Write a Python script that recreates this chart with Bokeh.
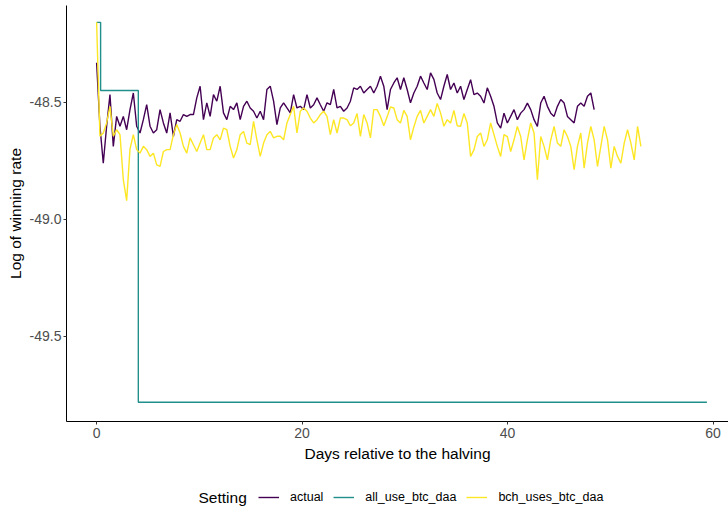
from bokeh.plotting import figure
from bokeh.layouts import column
from bokeh.models import Range1d, FixedTicker, PrintfTickFormatter, Legend, LegendItem, Label
from bokeh.embed import file_html
from bokeh.resources import INLINE
import numpy as np

step_days = 0.325

actual = [
    -48.331, -48.602, -48.760, -48.602, -48.467, -48.688, -48.560, -48.602, -48.560, -48.617,
    -48.531, -48.460, -48.602, -48.631, -48.574, -48.510, -48.602, -48.631, -48.617, -48.531,
    -48.588, -48.631, -48.545, -48.645, -48.574, -48.581, -48.552, -48.560, -48.552, -48.552,
    -48.481, -48.431, -48.574, -48.502, -48.560, -48.467, -48.495, -48.431, -48.545, -48.574,
    -48.517, -48.531, -48.502, -48.574, -48.517, -48.495, -48.524, -48.538, -48.567, -48.538,
    -48.574, -48.445, -48.431, -48.495, -48.595, -48.524, -48.502, -48.524, -48.545, -48.467,
    -48.524, -48.517, -48.531, -48.467, -48.524, -48.510, -48.481, -48.510, -48.538, -48.502,
    -48.510, -48.445, -48.524, -48.517, -48.538, -48.524, -48.495, -48.438, -48.445, -48.431,
    -48.460, -48.445, -48.431, -48.460, -48.431, -48.388, -48.431, -48.531, -48.445, -48.417,
    -48.395, -48.445, -48.395, -48.445, -48.502, -48.460, -48.431, -48.388, -48.417, -48.445,
    -48.374, -48.402, -48.460, -48.488, -48.431, -48.381, -48.445, -48.417, -48.460, -48.431,
    -48.488, -48.445,
    -48.403, -48.467, -48.460, -48.474, -48.503, -48.438, -48.474, -48.517,
    -48.588, -48.610, -48.546, -48.588, -48.560, -48.531, -48.574, -48.546, -48.531, -48.503,
    -48.531, -48.574, -48.603, -48.503, -48.474, -48.517, -48.546, -48.560, -48.517, -48.488,
    -48.503, -48.560, -48.574, -48.588, -48.517, -48.503, -48.517, -48.474, -48.460, -48.531,
]

bch_uses_btc_daa = [
    -48.158, -48.645, -48.631, -48.588, -48.517, -48.645, -48.617, -48.638, -48.830, -48.920,
    -48.700, -48.638, -48.702, -48.717, -48.688, -48.702, -48.731, -48.717, -48.767, -48.774,
    -48.710, -48.702, -48.702, -48.638, -48.595, -48.631, -48.688, -48.717, -48.652, -48.681,
    -48.710, -48.674, -48.638, -48.702, -48.702, -48.652, -48.638, -48.660, -48.610, -48.617,
    -48.688, -48.738, -48.702, -48.638, -48.624, -48.674, -48.681, -48.581, -48.660, -48.731,
    -48.674, -48.638, -48.624, -48.652, -48.645, -48.645, -48.660, -48.588, -48.552, -48.517,
    -48.631, -48.538, -48.524, -48.538, -48.567, -48.588, -48.574, -48.552, -48.538, -48.560,
    -48.638, -48.574, -48.631, -48.567, -48.567, -48.574, -48.600, -48.588, -48.548, -48.645,
    -48.552, -48.588, -48.652, -48.531, -48.531, -48.560, -48.600, -48.562, -48.520, -48.524,
    -48.574, -48.588, -48.534, -48.560, -48.660, -48.605, -48.560, -48.534, -48.588, -48.560,
    -48.531, -48.560, -48.505, -48.545, -48.602, -48.574, -48.588, -48.534, -48.600, -48.602,
    -48.548, -48.588,
    -48.731, -48.703, -48.646, -48.631, -48.688, -48.660, -48.588, -48.638,
    -48.688, -48.731, -48.638, -48.646, -48.710, -48.660, -48.603, -48.646, -48.746, -48.660,
    -48.588, -48.631, -48.831, -48.646, -48.688, -48.746, -48.660, -48.603, -48.674, -48.688,
    -48.617, -48.646, -48.688, -48.788, -48.688, -48.631, -48.781, -48.674, -48.603, -48.660,
    -48.774, -48.688, -48.603, -48.660, -48.781, -48.688, -48.731, -48.760, -48.674, -48.617,
    -48.674, -48.746, -48.603, -48.688,
]

all_use_days = [0.0, 0.39, 4.06, 59.4]
all_use_btc_daa = [-48.158, -48.449, -49.782, -49.782]

x_ticks = [0, 20, 40, 60]
y_ticks = [-49.5, -49.0, -48.5]
series_names = ["actual", "all_use_btc_daa", "bch_uses_btc_daa"]
legend_title = "Setting"
colors = ["#440154", "#21908C", "#FDE725"]

actual_days = np.arange(len(actual)) * step_days
bch_days = np.arange(len(bch_uses_btc_daa)) * step_days

FONT = "Liberation Sans"
LW = 1.4

p = figure(width=728, height=470, output_backend="svg", toolbar_location=None,
           x_range=Range1d(-2.93, 61.5), y_range=Range1d(-49.864, -48.086),
           min_border_left=66, min_border_right=0, min_border_top=5, min_border_bottom=49)
p.xgrid.visible = False
p.ygrid.visible = False
p.outline_line_color = None
p.background_fill_color = "white"
p.border_fill_color = "white"

p.line(actual_days, actual, line_color=colors[0], line_width=LW)
p.step(all_use_days, all_use_btc_daa, mode="after", line_color=colors[1], line_width=LW)
p.line(bch_days, bch_uses_btc_daa, line_color=colors[2], line_width=LW)

for ax in (p.xaxis[0], p.yaxis[0]):
    ax.minor_tick_line_color = None
    ax.major_tick_out = 3
    ax.major_tick_in = 0
    ax.major_tick_line_color = "#333333"
    ax.axis_line_color = "black"
    ax.axis_line_width = 1
    ax.major_label_text_color = "#4D4D4D"
    ax.major_label_text_font = FONT
    ax.major_label_text_font_size = "14px"
    ax.axis_label_text_font = FONT
    ax.axis_label_text_font_size = "15.5px"
    ax.axis_label_text_font_style = "normal"
    ax.axis_label_text_color = "black"

p.xaxis.ticker = FixedTicker(ticks=x_ticks)
p.yaxis.ticker = FixedTicker(ticks=y_ticks)
p.yaxis.formatter = PrintfTickFormatter(format="%.1f")
p.xaxis.axis_label = "Days relative to the halving"
p.yaxis.axis_label = "Log of winning rate"
p.xaxis.major_label_standoff = 3
p.xaxis.axis_label_standoff = 4
p.yaxis.major_label_standoff = 2
p.yaxis.axis_label_standoff = 3

# legend strip below the panel; its frame is aligned with the main frame (x 66..728),
# so the range is chosen to make 1 unit = 1 page pixel
lg = figure(width=728, height=39, output_backend="svg", toolbar_location=None,
            x_axis_type=None, y_axis_type=None,
            x_range=Range1d(66, 728), y_range=Range1d(0, 39),
            min_border_left=0, min_border_right=0, min_border_top=0, min_border_bottom=0)
lg.grid.visible = False
lg.outline_line_color = None
lg.background_fill_color = "white"
lg.border_fill_color = "white"

keys = [lg.line([np.nan], [np.nan], line_color=c, line_width=LW) for c in colors]
legend = Legend(
    items=[LegendItem(label=n, renderers=[k]) for n, k in zip(series_names, keys)],
    orientation="horizontal", location=(192, 2),
    glyph_width=21, glyph_height=20, label_height=20, label_standoff=11, spacing=10,
    padding=0, margin=0, border_line_color=None, background_fill_alpha=0,
    label_text_font=FONT, label_text_font_size="12.5px", label_text_color="black",
)
lg.add_layout(legend)
lg.add_layout(Label(x=198, y=12, text=legend_title,
                    text_font=FONT, text_font_size="15.5px", text_baseline="middle",
                    text_color="black"))

layout = column(p, lg, spacing=0)
open("out.html", "w").write(file_html(layout, INLINE))
